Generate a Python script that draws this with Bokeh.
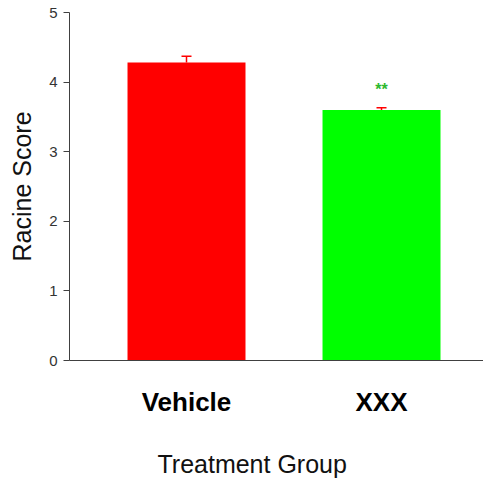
from bokeh.plotting import figure
from bokeh.models import ColumnDataSource, Whisker, TeeHead, FixedTicker, Range1d, Label
from bokeh.embed import file_html
from bokeh.resources import INLINE

categories = ["Vehicle", "XXX"]
means = [4.28, 3.60]
errors = [0.09, 0.03]
colors = ["#ff0000", "#00ff00"]
y_ticks = [0, 1, 2, 3, 4, 5]
sig_marks = ["", "**"]

xs = [i + 1 for i in range(len(categories))]
src = ColumnDataSource(dict(x=xs, top=means, upper=[m + e for m, e in zip(means, errors)],
                            color=colors))

p = figure(width=483, height=480, output_backend="svg", toolbar_location=None,
           x_range=Range1d(0.4, 2.523), y_range=Range1d(0, 5),
           min_border_left=69, min_border_right=0, min_border_top=12, min_border_bottom=0)
p.outline_line_color = None
p.grid.visible = False
p.background_fill_color = "white"
p.border_fill_color = "white"

p.vbar(x="x", top="top", width=0.605, bottom=0, fill_color="color", line_color=None, source=src)
w = Whisker(base="x", upper="upper", lower="top", source=src, line_color="#ff0000",
            line_width=1.5,
            upper_head=TeeHead(size=10, line_color="#ff0000", line_width=1.5), lower_head=None)
p.add_layout(w)

for x, m, e, s in zip(xs, means, errors, sig_marks):
    if s:
        p.add_layout(Label(x=x, y=m + e + 0.26, text=s, text_align="center",
                           text_baseline="middle", text_color="#2eb82e",
                           text_font="Liberation Sans", text_font_size="16px",
                           text_font_style="bold"))

ax = p.yaxis[0]
ax.ticker = FixedTicker(ticks=y_ticks)
ax.minor_tick_line_color = None
ax.major_tick_in = 0
ax.major_tick_out = 6
ax.axis_line_color = "#404040"
ax.major_tick_line_color = "#404040"
ax.major_label_text_font = "Liberation Sans"
ax.major_label_text_font_size = "15px"
ax.major_label_text_color = "#333333"
ax.major_label_standoff = 6
ax.axis_label = "Racine Score"
ax.axis_label_text_font = "Liberation Sans"
ax.axis_label_text_font_size = "25px"
ax.axis_label_text_font_style = "normal"
ax.axis_label_text_color = "#111111"
ax.axis_label_standoff = 10

bx = p.xaxis[0]
bx.ticker = FixedTicker(ticks=xs)
bx.major_label_overrides = {x: c for x, c in zip(xs, categories)}
bx.minor_tick_line_color = None
bx.major_tick_in = 0
bx.major_tick_out = 0
bx.axis_line_color = "#404040"
bx.major_label_text_font = "Liberation Sans"
bx.major_label_text_font_size = "26px"
bx.major_label_text_font_style = "bold"
bx.major_label_text_color = "#000000"
bx.major_label_standoff = 26
# trailing no-break spaces shift the centred label left, as in the reference
bx.axis_label = "Treatment Group" + "\u00a0" * 7
bx.axis_label_text_font = "Liberation Sans"
bx.axis_label_text_font_size = "25px"
bx.axis_label_text_font_style = "normal"
bx.axis_label_text_color = "#111111"
bx.axis_label_standoff = 30

open("out.html", "w").write(file_html(p, INLINE))
